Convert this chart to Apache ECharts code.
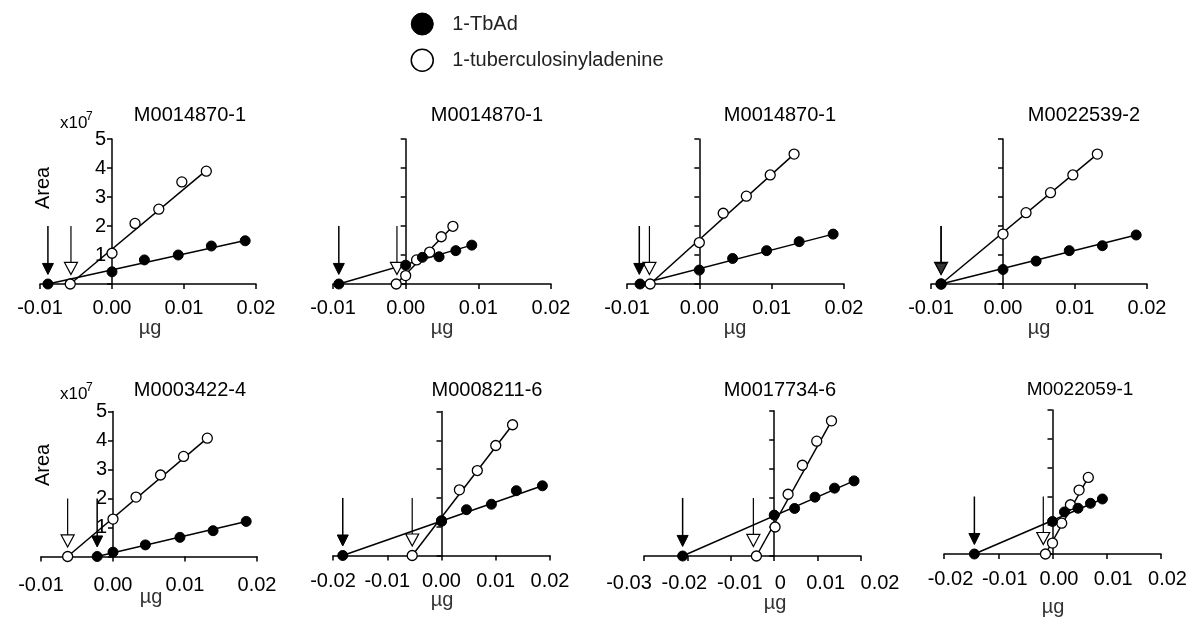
<!DOCTYPE html>
<html>
<head>
<meta charset="utf-8">
<script src="https://cdn.jsdelivr.net/npm/echarts@6/dist/echarts.min.js"></script>
<style>
html,body{margin:0;padding:0;background:#fff;}
#chart{width:1192px;height:623px;}
</style>
</head>
<body>
<div id="chart"></div>
<script>
// ---------- data (x in µg, y in Area ×10^7) ----------
const panelTitles = ['M0014870-1','M0014870-1','M0014870-1','M0022539-2','M0003422-4','M0008211-6','M0017734-6','M0022059-1'];
const xMins = [-0.01,-0.01,-0.01,-0.01,-0.01,-0.02,-0.03,-0.02];
const xMaxs = [0.02,0.02,0.02,0.02,0.02,0.02,0.02,0.02];
const xTickValues7 = [-0.03,-0.02,-0.01,0,0.01,0.02];
const xTickLabels7 = ['-0.03','-0.02','-0.01','0','0.01','0.02'];
const yTickLabels = ['','1','2','3','4','5'];

const tbadPoints = [
  [[-0.0089,0],[0,0.42],[0.0045,0.83],[0.0092,1.0],[0.0138,1.31],[0.0185,1.49]],
  [[-0.0092,0],[0,0.65],[0.0023,0.92],[0.0046,0.94],[0.0069,1.15],[0.0091,1.34]],
  [[-0.0082,0],[0,0.48],[0.0046,0.88],[0.0093,1.15],[0.0138,1.46],[0.0185,1.72]],
  [[-0.0086,0],[0,0.50],[0.0046,0.79],[0.0092,1.15],[0.0138,1.32],[0.0185,1.69]],
  [[-0.0022,0],[0,0.15],[0.0045,0.40],[0.0093,0.66],[0.0139,0.89],[0.0185,1.21]],
  [[-0.0182,0],[0,1.20],[0.0046,1.59],[0.0092,1.78],[0.0138,2.25],[0.0186,2.42]],
  [[-0.0211,0],[0,1.41],[0.0047,1.64],[0.0094,2.03],[0.0139,2.34],[0.0184,2.59]],
  [[-0.0144,0],[0,1.13],[0.0022,1.46],[0.0047,1.59],[0.0070,1.76],[0.0092,1.91]]
];
const tubPoints = [
  [[-0.0058,0],[0,1.06],[0.0032,2.09],[0.0065,2.58],[0.0097,3.52],[0.0131,3.89]],
  [[-0.0013,0],[0,0.29],[0.0015,0.83],[0.0033,1.10],[0.0049,1.63],[0.0065,1.99]],
  [[-0.0068,0],[0,1.43],[0.0033,2.44],[0.0065,3.03],[0.0098,3.76],[0.0131,4.48]],
  [[-0.0086,0],[0,1.72],[0.0032,2.46],[0.0066,3.15],[0.0097,3.76],[0.0131,4.48]],
  [[-0.0063,0],[0,1.29],[0.0032,2.05],[0.0066,2.81],[0.0098,3.45],[0.0131,4.08]],
  [[-0.0054,0],[0,1.20],[0.0033,2.28],[0.0066,2.95],[0.0100,3.82],[0.0131,4.54]],
  [[-0.0041,0],[0.0002,1.00],[0.0032,2.13],[0.0065,3.13],[0.0098,3.96],[0.0132,4.66]],
  [[-0.0013,0],[0,0.38],[0.0017,1.07],[0.0033,1.71],[0.0049,2.22],[0.0066,2.66]]
];
const tbadFit = [
  [[-0.0089,0],[0.0185,1.50]],
  [[-0.0092,0],[0.0091,1.34]],
  [[-0.0082,0],[0.0185,1.72]],
  [[-0.0086,0],[0.0185,1.69]],
  [[-0.0022,0],[0.0185,1.21]],
  [[-0.0182,0],[0.0186,2.42]],
  [[-0.0211,0],[0.0184,2.59]],
  [[-0.0144,0],[0.0092,1.91]]
];
const tubFit = [
  [[-0.0058,0],[0.0131,3.92]],
  [[-0.0013,0],[0.0065,1.99]],
  [[-0.0068,0],[0.0131,4.48]],
  [[-0.0086,0],[0.0131,4.48]],
  [[-0.0063,0],[0.0131,4.08]],
  [[-0.0054,0],[0.0131,4.54]],
  [[-0.0041,0],[0.0132,4.66]],
  [[-0.0013,0],[0.0066,2.66]]
];
const tbadArrowX = [-0.0089,-0.0092,-0.0083,-0.0086,-0.0022,-0.0182,-0.0211,-0.0144];
const tubArrowX  = [-0.0057,-0.0012,-0.0069,-0.0086,-0.0063,-0.0054,-0.0048,-0.0017];
const arrowTop = 2.0;
const arrowTip = 0.33;

// ---------- layout ----------
const gridBoxes = [
  {left:40,  top:139, width:216, height:145},
  {left:333, top:139, width:218, height:145},
  {left:627, top:139, width:217, height:145},
  {left:931, top:139, width:216, height:145},
  {left:41,  top:411.5, width:216, height:145},
  {left:333, top:411.5, width:217, height:144},
  {left:644, top:411, width:217, height:145},
  {left:944, top:410, width:217, height:144}
];
const FONT = '"Liberation Sans", Arial, Helvetica, sans-serif';
const xLabelMargins = [14,14,14,14,19,16,18,15];
const xLabelShiftPad = [0,0,0,0,0,0,0,13];
const label7Shift = [-15,-3,9,6,8,19];
const titlePos = [[190,115.5],[487,115.5],[780,115.5],[1084,115.5],[190,390],[487,390],[780,390],[1080,390]];
const ugPos = [[150,328],[442,328],[735,328],[1039,328],[151,597],[442,600],[775,603],[1053,607]];

const grids = [], xAxes = [], yAxes = [], series = [], graphics = [];

gridBoxes.forEach((g, i) => {
  grids.push(Object.assign({containLabel:false}, g));
  xAxes.push({
    type:'value', gridIndex:i, min:xMins[i], max:xMaxs[i], interval:0.01,
    splitLine:{show:false},
    axisLine:{onZero:false, lineStyle:{color:'#000', width:1.5}},
    axisTick:{show:true, length:5, lineStyle:{color:'#000', width:1.5}},
    axisLabel:{
      show: i !== 6, margin:xLabelMargins[i], fontSize:20, color:'#000', fontFamily:FONT,
      padding:[0,0,0,xLabelShiftPad[i]],
      showMinLabel:true, showMaxLabel:true,
      formatter: (v) => {
        const r = Math.round(v * 100) / 100;
        return (Math.abs(r) < 1e-9 ? 0 : r).toFixed(2);
      }
    }
  });
  const showY = (i === 0 || i === 4);
  const yOffset = -g.width * (0 - xMins[i]) / (xMaxs[i] - xMins[i]);
  yAxes.push({
    type:'value', gridIndex:i, min:0, max:5, interval:1, offset:yOffset,
    splitLine:{show:false},
    axisLine:{onZero:false, lineStyle:{color:'#000', width:1.5}},
    axisTick:{show:true, length:5, lineStyle:{color:'#000', width:1.5}},
    axisLabel:{
      show:showY, margin:6, fontSize:20, color:'#000', fontFamily:FONT,
      formatter:(v) => yTickLabels[Math.round(v)]
    }
  });

  // fit lines
  series.push({type:'line', name:'fit-tbad', xAxisIndex:i, yAxisIndex:i, data:tbadFit[i],
    symbol:'none', silent:true, z:2, lineStyle:{color:'#000', width:1.5}});
  series.push({type:'line', name:'fit-tub', xAxisIndex:i, yAxisIndex:i, data:tubFit[i],
    symbol:'none', silent:true, z:2, lineStyle:{color:'#000', width:1.5}});
  // arrow shafts
  series.push({type:'line', name:'arrow-shaft', xAxisIndex:i, yAxisIndex:i,
    data:[[tbadArrowX[i],arrowTop],[tbadArrowX[i],arrowTip+0.3]],
    symbol:'none', silent:true, z:2, lineStyle:{color:'#000', width:1.5}});
  series.push({type:'line', name:'arrow-shaft', xAxisIndex:i, yAxisIndex:i,
    data:[[tubArrowX[i],arrowTop],[tubArrowX[i],arrowTip+0.35]],
    symbol:'none', silent:true, z:2, lineStyle:{color:'#000', width:1.2}});
  // arrow heads
  series.push({type:'scatter', name:'arrow-head-tub', xAxisIndex:i, yAxisIndex:i,
    data:[[tubArrowX[i],arrowTip]], symbol:'triangle', symbolRotate:180,
    symbolSize:[13,12], symbolOffset:[0,-6], silent:true, z:4,
    itemStyle:{color:'#fff', borderColor:'#000', borderWidth:1.2, opacity:1}});
  series.push({type:'scatter', name:'arrow-head-tbad', xAxisIndex:i, yAxisIndex:i,
    data:[[tbadArrowX[i],arrowTip]], symbol:'triangle', symbolRotate:180,
    symbolSize:[11,11], symbolOffset:[0,-5.5], silent:true, z:5,
    itemStyle:{color:i===3 ? '#333' : '#000', borderColor:'#000', borderWidth:1, opacity:1}});
  // data points
  series.push({type:'scatter', name:'1-tuberculosinyladenine', xAxisIndex:i, yAxisIndex:i,
    data:tubPoints[i], symbol:'circle', symbolSize:10, z:6,
    itemStyle:{color:'#fff', borderColor:'#000', borderWidth:1.3, opacity:1}});
  series.push({type:'scatter', name:'1-TbAd', xAxisIndex:i, yAxisIndex:i,
    data:tbadPoints[i], symbol:'circle', symbolSize:10, z:7,
    itemStyle:{color:'#000', borderColor:'#000', borderWidth:1, opacity:1}});

  graphics.push({type:'text', x:titlePos[i][0], y:titlePos[i][1],
    style:{text:panelTitles[i], fill:'#000', font:(i===7?'19px ':'20px ') + FONT,
      textAlign:'center', textVerticalAlign:'middle'}});
  graphics.push({type:'text', x:ugPos[i][0], y:ugPos[i][1],
    style:{text:'µg', fill:'#333', font:'20px ' + FONT, textAlign:'center', textVerticalAlign:'middle'}});
});

// y-axis name and multiplier (first column)
[[123,188],[394,465]].forEach(([ty, ay]) => {
  graphics.push({type:'text', x:60, y:ty,
    style:{text:'x10', fill:'#000', font:'17px ' + FONT, textAlign:'left', textVerticalAlign:'middle'}});
  graphics.push({type:'text', x:86, y:ty-6,
    style:{text:'7', fill:'#000', font:'12px ' + FONT, textAlign:'left', textVerticalAlign:'middle'}});
  graphics.push({type:'text', x:43, y:ay, rotation:Math.PI/2,
    style:{text:'Area', fill:'#000', font:'20px ' + FONT, textAlign:'center', textVerticalAlign:'middle'}});
});

const chart = echarts.init(document.getElementById('chart'), null, {renderer:'canvas'});
const baseOption = {
  animation:false,
  backgroundColor:'#fff',
  textStyle:{fontFamily:FONT},
  legend:{
    orient:'vertical', left:410.5, top:12.5, padding:0, itemWidth:22, itemHeight:22, itemGap:13,
    icon:'circle', selectedMode:false,
    textStyle:{fontSize:20, color:'#222', fontFamily:FONT, padding:[0,0,0,14]},
    data:[
      {name:'1-TbAd', itemStyle:{color:'#000', borderColor:'#000', borderWidth:1, opacity:1}},
      {name:'1-tuberculosinyladenine', itemStyle:{color:'#fff', borderColor:'#000', borderWidth:1.5, opacity:1}}
    ]
  },
  grid:grids, xAxis:xAxes, yAxis:yAxes, series:series, graphic:graphics
};
chart.setOption(baseOption);

// panel 7 tick labels: placed from the axis scale, with the reference's spacing
const extra = xTickValues7.map((v, k) => {
  const p = chart.convertToPixel({gridIndex:6}, [v, 0]);
  return {type:'text', x:p[0] + label7Shift[k], y:p[1] + xLabelMargins[6] + 9,
    style:{text:xTickLabels7[k], fill:'#000', font:'20px ' + FONT, textAlign:'center', textVerticalAlign:'middle'}};
});
chart.setOption({graphic: graphics.concat(extra)});
</script>
</body>
</html>
